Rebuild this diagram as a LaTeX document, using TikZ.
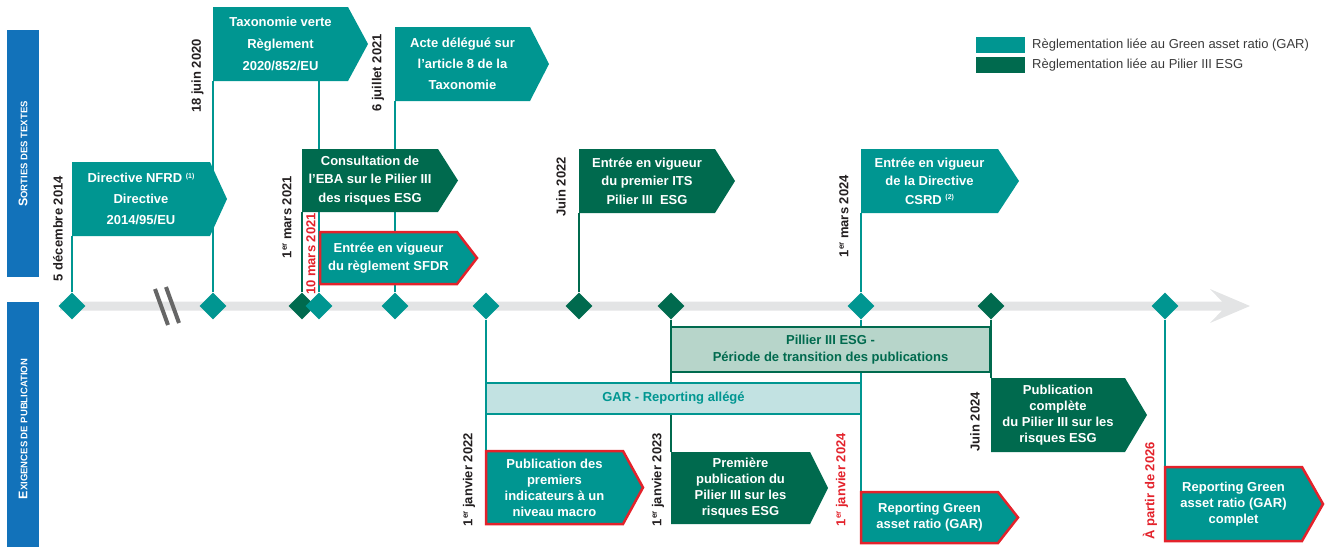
\documentclass[tikz,border=0pt]{standalone}
\usepackage{fontspec}
\setmainfont{Liberation Sans}
\usetikzlibrary{shapes.geometric}
\pgfdeclarelayer{background}
\pgfsetlayers{background,main}
\definecolor{teal1}{HTML}{009691}
\definecolor{dgreen}{HTML}{006A4E}
\definecolor{redb}{HTML}{E3222B}
\definecolor{sideblue}{HTML}{1272BA}
\definecolor{axisgray}{HTML}{E3E4E5}
\definecolor{breakgray}{HTML}{666666}
\definecolor{pilfill}{HTML}{B7D5CA}
\definecolor{garfill}{HTML}{C2E2E2}
\definecolor{lbl}{HTML}{231F20}
\definecolor{legtext}{HTML}{3A3A3A}
\newcommand\myer{\raisebox{4.5pt}{\fontsize{8}{8}\selectfont er}}
\newcommand\myfn[1]{\raisebox{4.5pt}{\fontsize{7}{7}\selectfont(#1)}}
% name, shape style, x1, y1, x2, y2, tip x, line spacing, text
\newcommand\flagbox[9]{%
  \path[#2] (#3,#4) -- (#5,#4) -- (#7,{(#4+#6)/2}) -- (#5,#6) -- (#3,#6) -- cycle;
  \coordinate (#1-nw) at (#3,#4);
  \coordinate (#1-sw) at (#3,#6);
  \node[boxtext, font=\bfseries\fontsize{13}{#8}\selectfont] (#1) at ({(#3+#5)/2},{(#4+#6)/2}) {#9};
}
\tikzset{
  tealflag/.style={fill=teal1},
  darkflag/.style={fill=dgreen},
  redflag/.style={fill=teal1, draw=redb, line width=2.5pt, line join=miter},
  boxtext/.style={text=white, align=center, inner sep=0},
  dia/.style={diamond, minimum width=27pt, minimum height=27pt, inner sep=0, fill=#1},
  stemline/.style={draw=#1, line width=2pt},
  datelbl/.style={rotate=90, anchor=east, inner sep=0, text=lbl, font=\bfseries\fontsize{13}{15}\selectfont},
  redlbl/.style={datelbl, text=redb},
  sidebar/.style={fill=sideblue, minimum width=32pt, inner sep=0},
  sidetext/.style={rotate=90, text=white, font=\bfseries, inner sep=0},
  legsw/.style={fill=#1, minimum width=49pt, minimum height=16pt, inner sep=0},
  legtxt/.style={anchor=west, inner sep=0, text=legtext, font=\fontsize{13}{15}\selectfont},
}
\begin{document}
\begin{tikzpicture}[x=1pt,y=-1pt]
\useasboundingbox (0,0) rectangle (1332,547);

% side bars
\node[sidebar, minimum height=247pt] (side1) at (23,153.5) {};
\node[sidetext] (side1t) at (23,154) {{\fontsize{12.5}{12}\selectfont S}{\fontsize{9.5}{10}\selectfont ORTIES DES TEXTES}};
\node[sidebar, minimum height=245pt] (side2) at (23,424.5) {};
\node[sidetext] (side2t) at (23,429) {{\fontsize{12.5}{12}\selectfont E}{\fontsize{9.5}{10}\selectfont XIGENCES DE PUBLICATION}};

% legend
\node[legsw=teal1] (leg1) at (1000.5,45) {};
\node[legtxt] (leg1t) at (1032,45) {Règlementation liée au Green asset ratio (GAR)};
\node[legsw=dgreen] (leg2) at (1000.5,65) {};
\node[legtxt] (leg2t) at (1032,65) {Règlementation liée au Pilier III ESG};

% diamonds on the axis
\node[dia=teal1] (d72) at (72,306) {};
\node[dia=teal1] (d213) at (213,306) {};
\node[dia=dgreen] (d302) at (302,306) {};
\node[dia=teal1] (d319) at (319,306) {};
\node[dia=teal1] (d395) at (395,306) {};
\node[dia=teal1] (d486) at (486,306) {};
\node[dia=dgreen] (d579) at (579,306) {};
\node[dia=dgreen] (d671) at (671,306) {};
\node[dia=teal1] (d861) at (861,306) {};
\node[dia=dgreen] (d991) at (991,306) {};
\node[dia=teal1] (d1165) at (1165,306) {};

% top flags
\flagbox{nfrd}{tealflag}{72}{162}{210}{236}{227}{21}{Directive NFRD \myfn{1}\\Directive\\2014/95/EU}
\flagbox{taxo}{tealflag}{213}{7}{348}{81}{368}{22}{Taxonomie verte\\Règlement\\2020/852/EU}
\coordinate (taxo-stem) at (319,81);
\flagbox{acte}{tealflag}{395}{27}{530}{101}{549}{21}{Acte délégué sur\\l’article 8 de la\\Taxonomie}
\flagbox{eba}{darkflag}{302}{149}{438}{212}{458}{18.5}{Consultation de\\l’EBA sur le Pilier III\\des risques ESG}
\flagbox{sfdr}{redflag}{320}{232}{457}{284}{477}{18}{Entrée en vigueur\\du règlement SFDR}
\flagbox{its}{darkflag}{579}{149}{715}{213}{735}{18.5}{Entrée en vigueur\\du premier ITS\\Pilier III\ \ ESG}
\flagbox{csrd}{tealflag}{861}{149}{998}{213}{1019}{18.5}{Entrée en vigueur\\de la Directive\\CSRD \myfn{2}}

% bars
\node[fill=pilfill, draw=dgreen, line width=2.5pt, minimum width=319pt, minimum height=45pt, inner sep=0,
      text=dgreen, align=center, font=\bfseries\fontsize{13}{16.5}\selectfont] (pil) at (830.5,349.5)
      {Pillier III ESG -\\Période de transition des publications};
\node[fill=garfill, draw=teal1, line width=2.5pt, minimum width=375pt, minimum height=31pt, inner sep=0,
      text=teal1, font=\bfseries\fontsize{13}{15}\selectfont] (garbar) at (673.5,398.5) {GAR - Reporting allégé};

% bottom flags
\flagbox{pub1}{redflag}{486}{451}{623}{524}{643}{16}{Publication des\\premiers\\indicateurs à un\\niveau macro}
\flagbox{prem}{darkflag}{671}{452}{810}{524}{828}{16}{Première\\publication du\\Pilier III sur les\\risques ESG}
\flagbox{gar}{redflag}{861}{492}{998}{543}{1018}{16}{Reporting Green\\asset ratio (GAR)}
\flagbox{comp}{darkflag}{991}{378}{1125}{452}{1147}{16}{Publication\\complète\\du Pilier III sur les\\risques ESG}
\flagbox{garc}{redflag}{1165}{467}{1302}{541}{1323}{16}{Reporting Green\\asset ratio (GAR)\\complet}

% date labels
\node[datelbl] (l1) at (58,176) {5 décembre 2014};
\node[datelbl] (l2) at (197.5,39) {18 juin 2020};
\node[datelbl] (l3) at (287,176) {1\myer{} mars 2021};
\node[redlbl] (l4) at (311,213) {10 mars 2021};
\node[datelbl] (l5) at (378,34) {6 juillet 2021};
\node[datelbl] (l6) at (561,157) {Juin 2022};
\node[datelbl] (l7) at (844,175) {1\myer{} mars 2024};
\node[datelbl] (l8) at (469,433) {1\myer{} janvier 2022};
\node[datelbl] (l9) at (658,433) {1\myer{} janvier 2023};
\node[redlbl] (l10) at (842,433) {1\myer{} janvier 2024};
\node[datelbl] (l11) at (975,392) {Juin 2024};
\node[redlbl] (l12) at (1150,442) {À partir de 2026};

\begin{pgfonlayer}{background}
  % axis with arrow
  \fill[axisgray] (60,301.5) -- (1222,301.5) -- (1210,289) -- (1250,306) -- (1210,323) -- (1222,310.5) -- (60,310.5) -- cycle;
  % break mark
  \draw[breakgray, line width=4pt] (155,289) -- (168,325);
  \draw[breakgray, line width=4pt] (166,287) -- (179,323);
  % stems
  \draw[stemline=teal1] (d72) -- (nfrd-sw);
  \draw[stemline=teal1] (d213) -- (taxo-sw);
  \draw[stemline=dgreen] (d302) -- (eba-sw);
  \draw[stemline=teal1] (d319) -- (taxo-stem);
  \draw[stemline=teal1] (d395) -- (acte-sw);
  \draw[stemline=dgreen] (d579) -- (its-sw);
  \draw[stemline=teal1] (d861) -- (csrd-sw);
  \draw[stemline=teal1] (d486) -- (pub1-nw);
  \draw[stemline=dgreen] (d671) -- (prem-nw);
  \draw[stemline=teal1] (d861) -- (gar-nw);
  \draw[stemline=dgreen] (d991) -- (comp-nw);
  \draw[stemline=teal1] (d1165) -- (garc-nw);
\end{pgfonlayer}
\end{tikzpicture}
\end{document}
